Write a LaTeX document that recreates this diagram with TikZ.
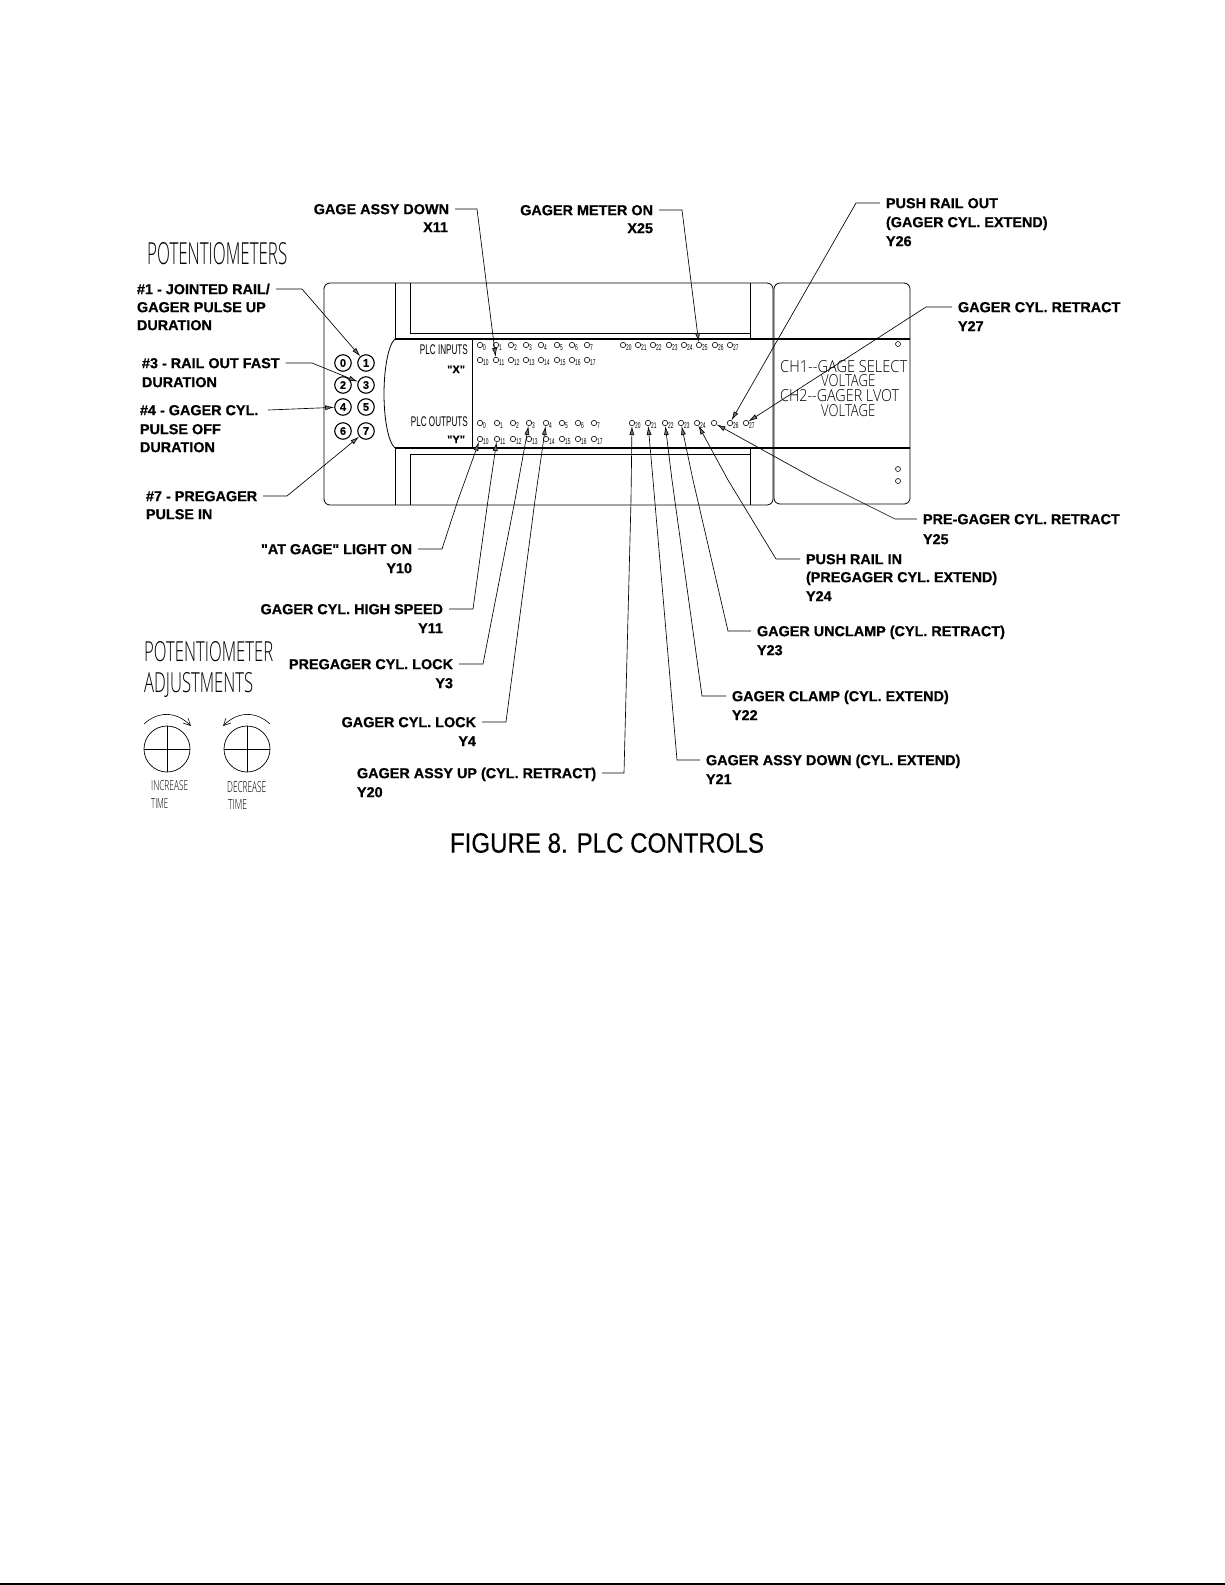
\documentclass[tikz,border=0pt]{standalone}
\usepackage{fontspec}
\usepackage{tikz}
\usetikzlibrary{arrows.meta}
\setmainfont{Liberation Sans}
\newfontfamily\labfont[BoldFeatures={FakeBold=0.7}]{Liberation Sans}
\newfontfamily\narrowfont[FakeStretch=0.58]{Liberation Sans}
\newfontfamily\titlefont[FakeStretch=0.86,FakeBold=0.25]{Liberation Sans}
\newfontfamily\cadfont[UprightFont=* Light]{Open Sans}
\newcommand{\cadtext}[3]{\resizebox{#1pt}{#2pt}{\cadfont #3}}

\begin{document}
\begin{tikzpicture}[
  x=1pt, y=-1pt,
  lab/.style={font=\fontsize{14.4}{16}\labfont\bfseries, inner sep=0pt, outer xsep=6pt,
              text height=10.3pt, text depth=0pt},
  led/.style={draw, circle, inner sep=0pt, minimum size=5.4pt, line width=0.6pt},
  lednum/.style={font=\fontsize{8.4}{9}\narrowfont, inner sep=0pt, anchor=west},
  pot/.style={draw, circle, inner sep=0pt, minimum size=16.5pt, line width=1.1pt,
              font=\fontsize{11}{12}\labfont\bfseries},
  dial/.style={draw, circle, inner sep=0pt, minimum size=46pt, line width=0.7pt},
  cad/.style={inner sep=0pt, anchor=west},
  plc/.style={font=\fontsize{14}{15}\narrowfont, inner sep=0pt, anchor=east},
  lead/.style={-{Latex[length=9pt,width=5pt,fill=black!55]}, line width=0.65pt},
  turn/.style={-{Straight Barb[length=7pt,width=7pt]}, line width=0.6pt}]
  \useasboundingbox (0,0) rectangle (1225,1585);
  \draw[line width=1.5pt] (0,1584.2) -- (1225,1584.2);

  % PLC body
  \draw[line width=0.8pt, rounded corners=6pt] (324,283) rectangle (773,505);
  \draw[line width=0.8pt, rounded corners=6pt] (774,283) rectangle (910,504);
  \draw[line width=1pt] (395,283) -- (395,339) (410,283) -- (410,333);
  \draw[line width=1pt] (395,448) -- (395,505) (410,454) -- (410,505);
  \draw[line width=0.9pt] (750,283) -- (750,339) (750,448) -- (750,505);
  \draw[line width=0.6pt] (410,333) -- (750,333) (410,454) -- (750,454);
  \draw[line width=1.1pt] (395,339) -- (910,339) (395,448) -- (910,448);
  \draw[line width=0.8pt] (395,339) .. controls (388,345) and (384,370) .. (384,394)
    .. controls (384,418) and (388,442) .. (395,448);
  \draw[line width=0.9pt] (472,339) -- (472,448);
  \node[led, minimum size=5pt] (sp1) at (898,344) {};
  \node[led, minimum size=5pt] (sp2) at (898,469) {};
  \node[led, minimum size=5pt] (sp3) at (898,481) {};

  % potentiometer buttons
  \foreach \px/\py/\num in {343/363/0,366/363/1,343/385/2,366/385/3,343/407/4,366/407/5,343/431/6,366/431/7}
    \node[pot] (pot\num) at (\px,\py) {\num};

  % input and output lamps
  \foreach \px/\num in {480/0,496/1,511/2,526/3,541/4,557/5,572/6,587/7,623/20,638/21,653/22,669/23,684/24,699/25,715/26,730/27} {
    \node[led] (x\num) at (\px,345) {};
    \node[lednum] (xn\num) at (\px+3,348) {\num};
  }
  \foreach \px/\num in {480/10,496/11,511/12,526/13,541/14,557/15,572/16,587/17} {
    \node[led] (x\num) at (\px,360) {};
    \node[lednum] (xn\num) at (\px+3,363) {\num};
  }
  \foreach \px/\num in {480/0,497/1,513/2,529/3,546/4,562/5,578/6,594/7,632/20,648/21,665/22,681/23,697/24,730/26,746/27} {
    \node[led] (y\num) at (\px,423) {};
    \node[lednum] (yn\num) at (\px+3,426) {\num};
  }
  \foreach \px/\num in {480/10,497/11,513/12,529/13,546/14,562/15,578/16,594/17} {
    \node[led] (y\num) at (\px,439) {};
    \node[lednum] (yn\num) at (\px+3,442) {\num};
  }
  \node[led] (y25) at (714,423) {};

  \node[plc] (inputs) at (468,350) {PLC INPUTS};
  \node[plc] (outputs) at (468,422) {PLC OUTPUTS};
  \node[lab, anchor=east, font=\fontsize{11}{12}\labfont\bfseries, outer xsep=0pt] (xmark) at (465,368) {"X"};
  \node[lab, anchor=east, font=\fontsize{11}{12}\labfont\bfseries, outer xsep=0pt] (ymark) at (465,438) {"Y"};

  % analog channel text
  \node[cad] (ch1) at (780,367) {\cadtext{127}{12}{CH1--GAGE SELECT}};
  \node[cad] (volt1) at (821,381) {\cadtext{54}{12}{VOLTAGE}};
  \node[cad] (ch2) at (780,396) {\cadtext{119}{12}{CH2--GAGER LVOT}};
  \node[cad] (volt2) at (821,411) {\cadtext{54}{12}{VOLTAGE}};

  % headings
  \node[cad] (pothead) at (147,254) {\cadtext{140}{22}{POTENTIOMETERS}};
  \node[cad] (adjhead1) at (144,652) {\cadtext{129}{20}{POTENTIOMETER}};
  \node[cad] (adjhead2) at (144,685) {\cadtext{109}{20}{ADJUSTMENTS}};

  % dials
  \node[dial] (incr) at (167,749) {};
  \node[dial] (decr) at (247,749) {};
  \draw[line width=0.6pt] (incr.north) -- (incr.south) (incr.west) -- (incr.east);
  \draw[line width=0.6pt] (decr.north) -- (decr.south) (decr.west) -- (decr.east);
  \draw[turn] (144,724) .. controls (158,711) and (176,711) .. (191,726);
  \draw[turn] (270,724) .. controls (256,711) and (238,711) .. (223,726);
  \node[cad] (inc1) at (151,786) {\cadtext{37}{10}{INCREASE}};
  \node[cad] (inc2) at (151,803) {\cadtext{17}{10}{TIME}};
  \node[cad] (dec1) at (227,787) {\cadtext{39}{11}{DECREASE}};
  \node[cad] (dec2) at (228,804) {\cadtext{19}{10}{TIME}};

  % left labels
  \node[lab, anchor=west] (p1) at (131,289) {\#1 - JOINTED RAIL/};
  \node[lab, anchor=west] (p1b) at (131,307) {GAGER PULSE UP};
  \node[lab, anchor=west] (p1c) at (131,325) {DURATION};
  \node[lab, anchor=west] (p3) at (136,363) {\#3 - RAIL OUT FAST};
  \node[lab, anchor=west] (p3b) at (136,382) {DURATION};
  \node[lab, anchor=west] (p4) at (134,410) {\#4 - GAGER CYL.};
  \node[lab, anchor=west] (p4b) at (134,429) {PULSE OFF};
  \node[lab, anchor=west] (p4c) at (134,447) {DURATION};
  \node[lab, anchor=west] (p7) at (140,496) {\#7 - PREGAGER};
  \node[lab, anchor=west] (p7b) at (140,514) {PULSE IN};
  \coordinate (p4start) at (268,410);
  \draw[lead] (p1.east) -- (302,289) -- (pot1);
  \draw[lead] (p3.east) -- (312,363) -- (pot3);
  \draw[lead] (p4start) -- (pot4);
  \draw[lead] (p7.east) -- (287,496) -- (pot7);

  % top labels
  \node[lab, anchor=east] (gad) at (455,209) {GAGE ASSY DOWN};
  \node[lab, anchor=east] (gadb) at (454,227) {X11};
  \node[lab, anchor=east] (gmo) at (659,210) {GAGER METER ON};
  \node[lab, anchor=east] (gmob) at (659,228) {X25};
  \node[lab, anchor=west] (pro) at (880,203) {PUSH RAIL OUT};
  \node[lab, anchor=west] (prob) at (880,222) {(GAGER CYL. EXTEND)};
  \node[lab, anchor=west] (proc) at (880,241) {Y26};
  \node[lab, anchor=west] (gcr) at (952,307) {GAGER CYL. RETRACT};
  \node[lab, anchor=west] (gcrb) at (952,326) {Y27};
  \draw[lead] (gad.east) -- (477,209) -- (x11);
  \draw[lead] (gmo.east) -- (682,210) -- (x25);
  \draw[lead] (pro.west) -- (856,203) -- (y26);
  \draw[lead] (gcr.west) -- (926,307) -- (y27);

  % lower left labels
  \node[lab, anchor=east] (agl) at (418,549) {"AT GAGE" LIGHT ON};
  \node[lab, anchor=east] (aglb) at (418,568) {Y10};
  \node[lab, anchor=east] (ghs) at (449,609) {GAGER CYL. HIGH SPEED};
  \node[lab, anchor=east] (ghsb) at (449,628) {Y11};
  \node[lab, anchor=east] (pcl) at (459,664) {PREGAGER CYL. LOCK};
  \node[lab, anchor=east] (pclb) at (459,683) {Y3};
  \node[lab, anchor=east] (gcl) at (482,722) {GAGER CYL. LOCK};
  \node[lab, anchor=east] (gclb) at (482,741) {Y4};
  \node[lab, anchor=west] (gau) at (351,773) {GAGER ASSY UP (CYL. RETRACT)};
  \node[lab, anchor=west] (gaub) at (351,792) {Y20};
  \draw[lead] (agl.east) -- (442,549) -- (458,500) -- (y10);
  \draw[lead] (ghs.east) -- (473,609) -- (488,500) -- (y11);
  \draw[lead] (pcl.east) -- (483,664) -- (515,500) -- (y3);
  \draw[lead] (gcl.east) -- (506,722) -- (535,500) -- (y4);
  \draw[lead] (gau.east) -- (624,773) -- (631,500) -- (y20);

  % lower right labels
  \node[lab, anchor=west] (pgr) at (917,519) {PRE-GAGER CYL. RETRACT};
  \node[lab, anchor=west] (pgrb) at (917,539) {Y25};
  \node[lab, anchor=west] (pri) at (800,559) {PUSH RAIL IN};
  \node[lab, anchor=west] (prib) at (800,577) {(PREGAGER CYL. EXTEND)};
  \node[lab, anchor=west] (pric) at (800,596) {Y24};
  \node[lab, anchor=west] (guc) at (751,631) {GAGER UNCLAMP (CYL. RETRACT)};
  \node[lab, anchor=west] (gucb) at (751,650) {Y23};
  \node[lab, anchor=west] (gcp) at (726,696) {GAGER CLAMP (CYL. EXTEND)};
  \node[lab, anchor=west] (gcpb) at (726,715) {Y22};
  \node[lab, anchor=west] (gdn) at (700,760) {GAGER ASSY DOWN (CYL. EXTEND)};
  \node[lab, anchor=west] (gdnb) at (700,779) {Y21};
  \draw[lead] (pgr.west) -- (895,519) -- (817,480) -- (y25);
  \draw[lead] (pri.west) -- (776,559) -- (728,480) -- (y24);
  \draw[lead] (guc.west) -- (728,631) -- (693,480) -- (y23);
  \draw[lead] (gcp.west) -- (702,696) -- (672,480) -- (y22);
  \draw[lead] (gdn.west) -- (677,760) -- (653,480) -- (y21);

  \node[font=\fontsize{28}{30}\titlefont, inner sep=0pt] (title) at (607,843) {FIGURE 8. PLC CONTROLS};
\end{tikzpicture}
\end{document}
